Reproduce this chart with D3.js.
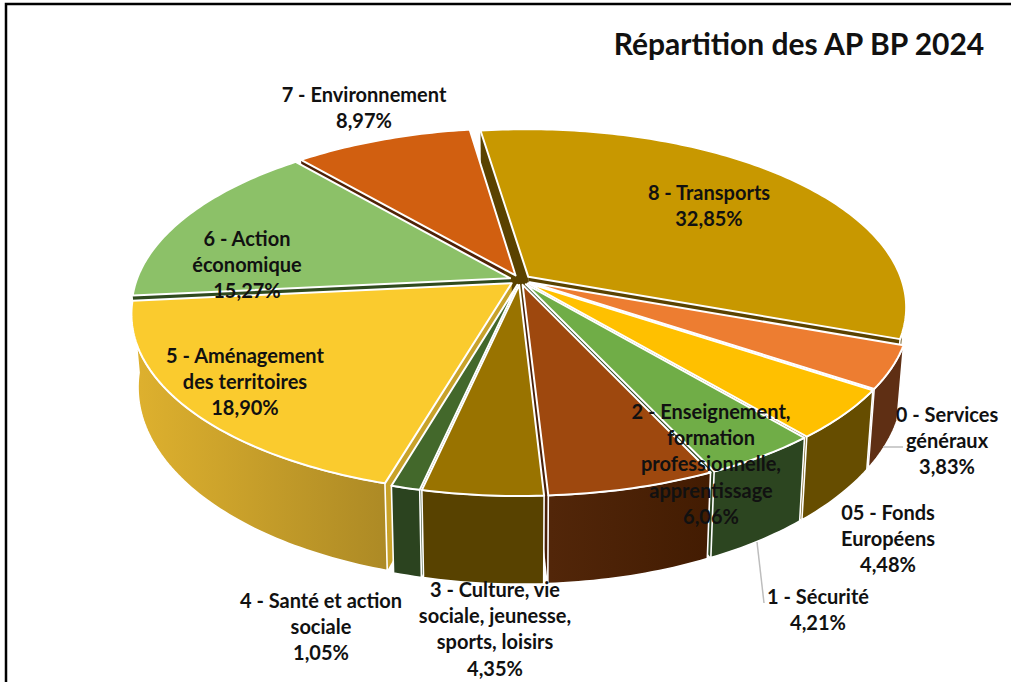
<!DOCTYPE html>
<html lang="fr">
<head>
<meta charset="utf-8">
<script src="https://cdn.jsdelivr.net/npm/d3@7"></script>
<style>
html,body{margin:0;padding:0;background:#fff;overflow:hidden}
text{font-family:Lato,"Noto Sans",sans-serif;font-weight:700;fill:#111;text-anchor:middle}
</style>
</head>
<body>
<svg id="c" width="1011" height="682"></svg>
<script>
const titleText = "Répartition des AP BP 2024";
const categories = [
  ["0 - Services","généraux"],
  ["05 - Fonds","Européens"],
  ["1 - Sécurité"],
  ["2 - Enseignement,","formation","professionnelle,","apprentissage"],
  ["3 - Culture, vie","sociale, jeunesse,","sports, loisirs"],
  ["4 - Santé et action","sociale"],
  ["5 - Aménagement","des territoires"],
  ["6 - Action","économique"],
  ["7 - Environnement"],
  ["8 - Transports"]
];
const shares = [3.83,4.48,4.21,6.06,4.35,1.05,18.90,15.27,8.97,32.85];
const topColors  = ["#ED7D31","#FFC000","#70AD47","#9E480E","#997300","#43682B","#FACB2E","#8CC168","#D15F10","#C89800"];
const wallColors = ["#5F2F14","#664D00","#2C4520","#4A2008","#584200","#2B431F","#C8A22A","#2F4A1E","#4F2206","#5A4200"];
const labelCenters = [[947,415],[888,513],[818,597],[711,412],[495,590],[321,601],[245,356],[247,239],[364,95],[709,193]];
const leaders = [[[883,447],[903,447]],[[757,542],[764,603]]];

const cx=520, cy=280, R=383, S=178, p=0.173, radius=0.975, explode=0.028;
const firstAngle = 109.9*Math.PI/180;
const project=(u,v)=>{const w=1-p*v;return [cx+R*u/w, cy+S*v/w];};
const lower=([x,y])=>[cx+(x-cx)*0.983, y+70+Math.max(0,y-cy)*0.084];

const svg=d3.select("#c");
const defs=svg.append("defs");
const grad=defs.append("linearGradient").attr("id","wall5").attr("gradientUnits","userSpaceOnUse")
  .attr("x1",140).attr("x2",385).attr("y1",0).attr("y2",0);
grad.append("stop").attr("offset",0).attr("stop-color","#DDB02E");
grad.append("stop").attr("offset",1).attr("stop-color","#AD8A25");
const grad2=defs.append("linearGradient").attr("id","wall3").attr("gradientUnits","userSpaceOnUse")
  .attr("x1",550).attr("x2",708).attr("y1",0).attr("y2",0);
grad2.append("stop").attr("offset",0).attr("stop-color","#522609");
grad2.append("stop").attr("offset",1).attr("stop-color","#431C02");

svg.append("rect").attr("x",6).attr("y",4).attr("width",1100).attr("height",800)
  .attr("fill","#fff").attr("stroke","#000").attr("stroke-width",2.5);

const pie=d3.pie().sort(null).value(d=>d).startAngle(firstAngle).endAngle(firstAngle+2*Math.PI);
const arcs=pie(shares).map((a,i)=>{
  const mid=(a.startAngle+a.endAngle)/2;
  const ou=explode*Math.sin(mid), ov=-explode*Math.cos(mid);
  const pt=(t,r)=>project(ou+r*Math.sin(t), ov-r*Math.cos(t));
  const n=Math.max(4,Math.ceil((a.endAngle-a.startAngle)/(Math.PI/180)));
  const rim=d3.range(n+1).map(k=>pt(a.startAngle+(a.endAngle-a.startAngle)*k/n,radius));
  return {i,mid,rim,apex:pt(0,0),depth:-Math.cos(mid)};
});
const line=d3.line().curve(d3.curveLinearClosed);
const walls=svg.append("g").attr("stroke-linejoin","round");
const tops=svg.append("g").attr("stroke","#fff").attr("stroke-width",2).attr("stroke-linejoin","round");

arcs.slice().sort((a,b)=>a.depth-b.depth).forEach(s=>{
  const f=wallColors[s.i];
  const first=s.rim[0], last=s.rim[s.rim.length-1];
  const q1=[s.apex,first,lower(first),lower(s.apex)];
  const q2=[s.apex,last,lower(last),lower(s.apex)];
  if(d3.polygonArea(q1)>0) walls.append("path").attr("d",line(q1)).attr("fill",f);
  if(d3.polygonArea(q2)<0) walls.append("path").attr("d",line(q2)).attr("fill",f);
  const front=s.rim.filter(q=>q[1]>=300);
  if(front.length>1){
    const outer=front.concat(front.slice().reverse().map(lower));
    const fill=s.i===6?"url(#wall5)":s.i===3?"url(#wall3)":f;
    walls.append("path").attr("d",line(outer)).attr("fill",fill)
      .attr("stroke","#fff").attr("stroke-width",1.6);
  }
});
arcs.forEach(s=>{
  tops.append("path").attr("d",line([s.apex].concat(s.rim))).attr("fill",topColors[s.i]);
});

svg.append("g").selectAll("path").data(leaders).join("path")
  .attr("d",d3.line()).attr("fill","none").attr("stroke","#BDBDBD").attr("stroke-width",1.5);

const pct=d3.format(".2f");
const lh=26.2;
const labels=svg.append("g").style("font-size","20px");
categories.forEach((c,i)=>{
  const [x,y]=labelCenters[i];
  const lines=c.concat([pct(shares[i]).replace(".",",")+"%"]);
  lines.forEach((t,k)=>labels.append("text").attr("x",x).attr("y",y+k*lh).attr("dy","0.35em").text(t));
});
svg.append("text").attr("x",799).attr("y",55).style("font-size","30px").text(titleText);
</script>
</body>
</html>
